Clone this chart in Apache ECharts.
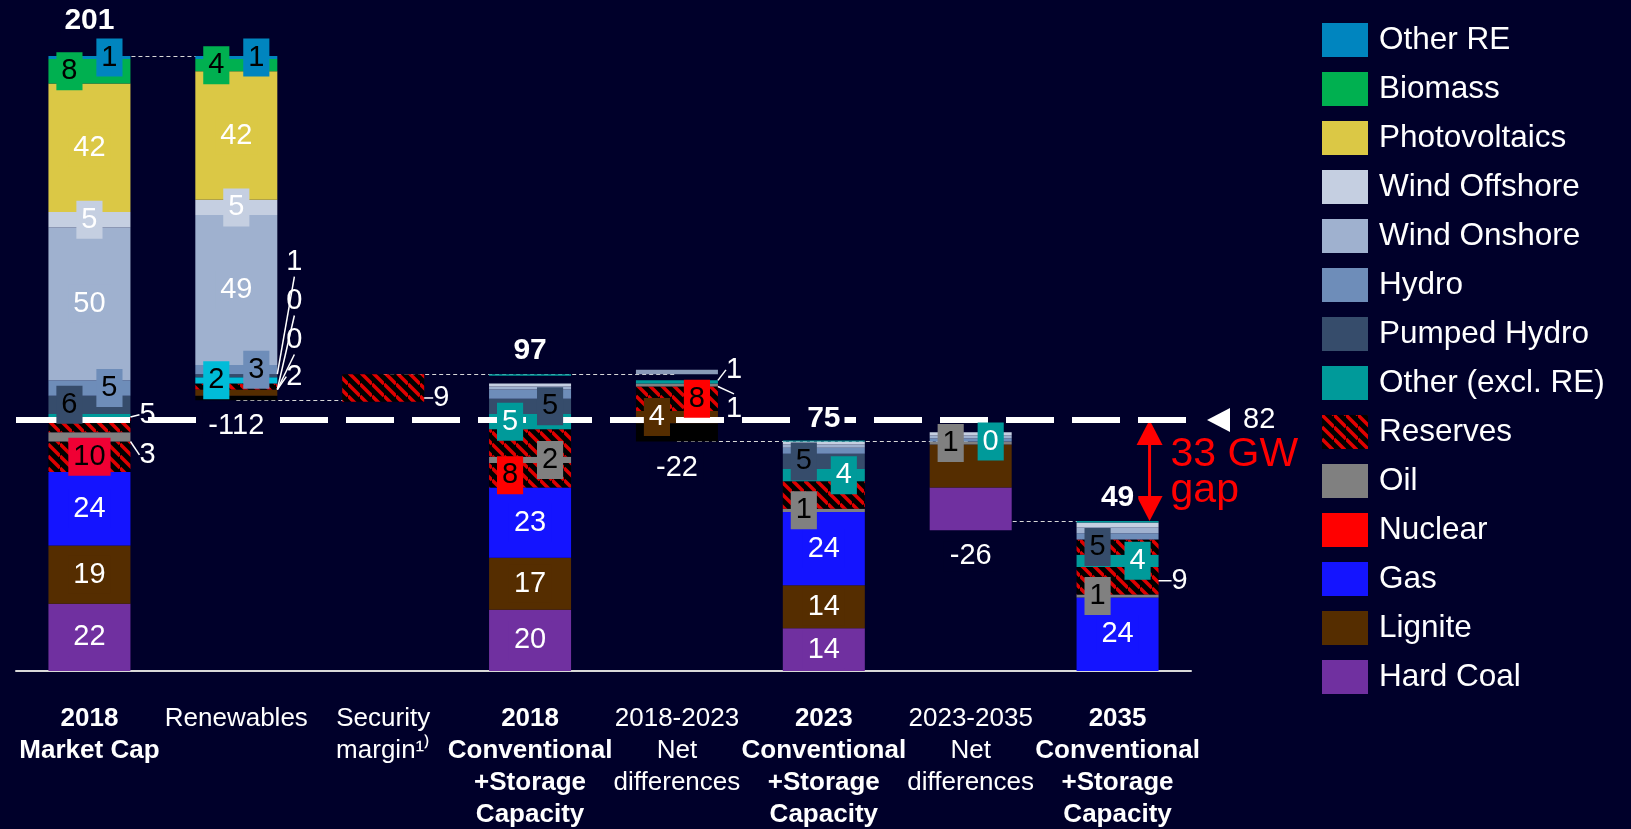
<!DOCTYPE html>
<html lang="en">
<head>
<meta charset="UTF-8">
<title>Capacity waterfall</title>
<script src="https://cdn.jsdelivr.net/npm/echarts@6/dist/echarts.min.js"></script>
<style>
  html, body { margin: 0; padding: 0; background: #00002a; }
  #chart { width: 1631px; height: 829px; }
</style>
</head>
<body>
<div id="chart"></div>
<script>
// categories (x axis)
const categories = ['2018\nMarket Cap', 'Renewables', 'Security\nmargin¹⁾',
  '2018\nConventional\n+Storage\nCapacity', '2018-2023\nNet\ndifferences',
  '2023\nConventional\n+Storage\nCapacity', '2023-2035\nNet\ndifferences',
  '2035\nConventional\n+Storage\nCapacity'];
const boldCats = [true, false, false, true, false, true, false, true];

// stacked values, bottom to top (GW)
const base      = ['-', 88.5, 88, '-', 75, '-', 46, '-'];
const netOther  = ['-', 1.5, '-', '-', 6, '-', '-', '-'];
const hardCoal  = [22, '-', '-', 20, '-', 14, 14, '-'];
const lignite   = [19, 2, '-', 17, 4, 14, 14, '-'];
const gas       = [24, '-', '-', 23, '-', 24, '-', 24];
const nuclear   = [10, 0, '-', 8, 8, '-', '-', '-'];
const oil       = [3, 0, '-', 2, 1, 1, 1, 1];
const reserves  = [5, 2, 9, 9, '-', 9, '-', 9];
const otherExcl = [1, 2, '-', 5, 1, 4, 0, 4];
const pumped    = [6, 1, '-', 5, '-', 5, '-', 5];
const hydro     = [5, 3, '-', 3, '-', 2, 1, 2];
const windOn    = [50, 49, '-', 1, '-', 1, 1, 2];
const windOff   = [5, 5, '-', 1, '-', 1, 1, 1.5];
const pv        = [42, 42, '-', '-', '-', '-', '-', '-'];
const biomass   = [8, 4, '-', '-', '-', '-', '-', '-'];
const otherRE   = [1, 1, '-', '-', '-', '-', '-', '-'];
const gap       = ['-', '-', '-', 2.5, 2, '-', '-', '-'];
const cap       = ['-', '-', '-', 0.5, 1.5, 0.3, '-', 0.5];
const totals    = [201, '-', '-', 97, '-', 75, '-', 49];
const deltas    = ['', '-112', '', '', '-22', '', '-26', ''];
const target = 82;
const gapText = ['33 GW', 'gap'];
// connectors: from category, to category, level
const connectors = [[0, 1, 201], [1, 2, 88.5], [2, 4, 97], [4, 5, 75], [5, 6, 75], [6, 7, 49]];

const BG = '#00002a';
const FONT = '"Liberation Sans", Arial, sans-serif';
const BAR_W = 82;
const CLEAR = 'rgba(0,0,0,0)';

// red / black hatch used for reserves
function makeHatch() {
  const c = document.createElement('canvas');
  c.width = 12; c.height = 12;
  const g = c.getContext('2d');
  g.fillStyle = '#000'; g.fillRect(0, 0, 12, 12);
  g.strokeStyle = '#e00000'; g.lineWidth = 3.5;
  [-12, 0, 12].forEach(o => { g.beginPath(); g.moveTo(0, o); g.lineTo(12, 12 + o); g.stroke(); });
  return c;
}
const hatch = { image: makeHatch(), repeat: 'repeat' };

// segment definitions, bottom to top
// label codes: c centre, l box left, r box right, o outside with leader
const segs = [
  { name: 'base', color: CLEAR, data: base, codes: [] },
  { name: 'net', color: '#000000', data: netOther, codes: [] },
  { name: 'Hard Coal', color: '#7030a0', data: hardCoal, codes: ['c', '', '', 'c', '', 'c', '', ''], text: '#fff' },
  { name: 'Lignite', color: '#552d00', data: lignite, codes: ['c', 'o', '', 'c', 'l', 'c', '', ''], text: '#fff',
    leaders: [null, [4, -16]] },
  { name: 'Gas', color: '#1414ff', data: gas, codes: ['c', '', '', 'c', '', 'c', '', 'c'], text: '#fff' },
  { name: 'Nuclear', color: '#ff0000', data: nuclear, codes: ['c', 'o', '', 'l', 'r', '', '', ''], text: '#000',
    hatchAt: [0, 3, 4], leaders: [null, [4, -50]], boxAt: [['#f00034', '#000']] },
  { name: 'Oil', color: '#808080', data: oil, codes: ['o', 'o', '', 'r', 'o', 'l', 'l', 'l'], text: '#000',
    leaders: [[4, 18], [4, -89], null, null, [3, 24]] },
  { name: 'Reserves', color: '#c00000', data: reserves, codes: ['o', '', 'o', '', '', '', '', 'o'], text: '#fff',
    pattern: true, leaders: [[4, -10], null, [4, 10], null, null, null, null, [8, 0]] },
  { name: 'Other (excl. RE)', color: '#009a9a', data: otherExcl, codes: ['', 'l', '', 'l', 'o', 'r', 'r', 'r'], text: '#fff',
    colorAt: [null, '#00bcd8'], boxAt: [null, ['#00bcd8', '#000']], leaders: [null, null, null, null, [3, -12]] },
  { name: 'Pumped Hydro', color: '#364c6b', data: pumped, codes: ['l', 'o', '', 'r', '', 'l', '', 'l'], text: '#000',
    hatchAt: [7], leaders: [null, [4, -114]] },
  { name: 'Hydro', color: '#6e8db9', data: hydro, codes: ['r', 'r', '', '', '', '', '', ''], text: '#000' },
  { name: 'Wind Onshore', color: '#9fb1cf', data: windOn, codes: ['c', 'c', '', '', '', '', '', ''], text: '#fff' },
  { name: 'Wind Offshore', color: '#c5cfe1', data: windOff, codes: ['c', 'c', '', '', '', '', '', ''], text: '#fff' },
  { name: 'Photovoltaics', color: '#dbc845', data: pv, codes: ['c', 'c', '', '', '', '', '', ''], text: '#fff' },
  { name: 'Biomass', color: '#00b050', data: biomass, codes: ['l', 'l', '', '', '', '', '', ''], text: '#000' },
  { name: 'Other RE', color: '#0085bf', data: otherRE, codes: ['r', 'r', '', '', '', '', '', ''], text: '#000' },
  { name: 'gap', color: CLEAR, data: gap, codes: [] },
  { name: 'cap', color: '#009a9a', data: cap, codes: [], colorAt: [null, null, null, null, '#8a9ab8'] }
];

// visible bars (z 1)
function barSeries(s) {
  return {
    name: s.name, type: 'bar', stack: 'all', barWidth: BAR_W, barGap: '-100%', z: 1,
    itemStyle: { color: s.pattern ? hatch : s.color },
    label: { show: false },
    data: s.data.map((v, i) => {
      const item = { value: v };
      if (s.hatchAt && s.hatchAt.includes(i)) item.itemStyle = { color: hatch };
      if (s.colorAt && s.colorAt[i]) item.itemStyle = { color: s.colorAt[i] };
      return item;
    })
  };
}

// transparent copy carrying the labels, drawn above the 82 GW line (z 3)
function labelSeries(s) {
  const leaders = s.leaders || [];
  const codes = s.codes;
  return {
    name: 'lbl ' + s.name, type: 'bar', stack: 'lbl', barWidth: BAR_W, barGap: '-100%', z: 3,
    itemStyle: { color: CLEAR },
    label: { show: false, fontSize: 29, fontFamily: FONT, color: s.text || '#fff',
      backgroundColor: s.color, padding: [4, 5], lineHeight: 30 },
    labelLine: { show: true, lineStyle: { color: '#fff', width: 1.5 } },
    labelLayout: function (p) {
      const code = codes[p.dataIndex];
      if (code === 'o') {
        const l = leaders[p.dataIndex];
        return { dx: l[0], dy: l[1] };
      }
      if (code === 'l') return { dx: -20 };
      if (code === 'r') return { dx: 20 };
      return {};
    },
    data: s.data.map((v, i) => {
      const item = { value: v };
      const code = codes[i];
      if (s.name === 'base' && deltas[i]) {
        item.label = { show: true, formatter: deltas[i], position: 'insideTop', distance: 11, fontSize: 29,
          fontFamily: FONT, color: '#fff', backgroundColor: BG, padding: [0, 6] };
        return item;
      }
      if (!code) return item;
      if (code === 'o') {
        item.label = { show: true, position: 'right', distance: 5, color: '#fff',
          backgroundColor: 'transparent', padding: 0 };
      } else {
        item.label = { show: true, position: 'inside' };
        item.labelLine = { show: false };
        if (s.boxAt && s.boxAt[i]) {
          item.label.backgroundColor = s.boxAt[i][0];
          item.label.color = s.boxAt[i][1];
        }
      }
      return item;
    })
  };
}

const series = segs.map(barSeries).concat(segs.map(labelSeries)).concat([
  { name: 'total', type: 'bar', stack: 'tot', barWidth: BAR_W, barGap: '-100%', z: 3,
    itemStyle: { color: CLEAR },
    data: totals.map((v, i) => ({ value: v, label: { distance: i === 0 ? 20 : 8 } })),
    label: { show: true, position: 'top', fontSize: 30, fontWeight: 'bold', fontFamily: FONT,
      color: '#fff', backgroundColor: BG, padding: [0, 4] } },
  { name: 'connectors', type: 'line', data: [], z: 0,
    markLine: { silent: true, symbol: 'none', z: 0, label: { show: false },
      lineStyle: { color: '#d8d8d8', width: 1, type: [4, 3] },
      data: connectors.map(c => [{ coord: [categories[c[0]], c[2]] }, { coord: [categories[c[1]], c[2]] }]) } },
  { name: 'target', type: 'line', data: [], z: 2,
    markLine: { silent: true, symbol: 'none', z: 2, label: { show: false },
      lineStyle: { color: '#fff', width: 6, type: [48, 18] },
      data: [{ yAxis: target }] } }
]);

const legendNames = ['Other RE', 'Biomass', 'Photovoltaics', 'Wind Offshore', 'Wind Onshore', 'Hydro',
  'Pumped Hydro', 'Other (excl. RE)', 'Reserves', 'Oil', 'Nuclear', 'Gas', 'Lignite', 'Hard Coal'];

const chart = echarts.init(document.getElementById('chart'));
chart.setOption({
  backgroundColor: BG,
  animation: false,
  grid: { left: 16, right: 440, top: 4, bottom: 158 },
  legend: {
    orient: 'vertical', left: 1317, top: 18, itemWidth: 46, itemHeight: 34, itemGap: 15,
    selectedMode: false, icon: 'rect', data: legendNames,
    textStyle: { color: '#fff', fontSize: 31.5, fontFamily: FONT, lineHeight: 34, padding: [0, 0, 0, 6] }
  },
  xAxis: {
    type: 'category', data: categories,
    axisTick: { show: false },
    axisLine: { lineStyle: { color: '#d9d9d9', width: 2 } },
    axisLabel: {
      interval: 0, margin: 32,
      formatter: (v, i) => v.split('\n').map(s => '{' + (boldCats[i] ? 'b' : 'n') + '|' + s + '}').join('\n'),
      rich: {
        b: { fontSize: 26, fontWeight: 'bold', color: '#fff', lineHeight: 32, fontFamily: FONT },
        n: { fontSize: 26, color: '#fff', lineHeight: 32, fontFamily: FONT }
      }
    }
  },
  yAxis: { type: 'value', min: 0, max: 218, show: false, splitLine: { show: false } },
  series: series
});

// annotations: 82 marker and the red gap arrow
const p82 = chart.convertToPixel({ gridIndex: 0 }, [categories[7], target]);
const p49 = chart.convertToPixel({ gridIndex: 0 }, [categories[7], totals[7]]);
const gridRight = 1631 - 440;
const ax = p82[0] + 32;
chart.setOption({
  graphic: [
    { type: 'polygon', shape: { points: [[gridRight + 16, p82[1]], [gridRight + 39, p82[1] - 12], [gridRight + 39, p82[1] + 12]] },
      style: { fill: '#fff' } },
    { type: 'text', x: gridRight + 52, y: p82[1], style: { text: String(target), fill: '#fff', font: '29px ' + FONT, verticalAlign: 'middle' } },
    { type: 'rect', shape: { x: ax - 1.5, y: p82[1] + 20, width: 3, height: p49[1] - p82[1] - 40 }, style: { fill: '#ff0000' } },
    { type: 'polygon', shape: { points: [[ax, p82[1]], [ax - 13, p82[1] + 25], [ax + 13, p82[1] + 25]] }, style: { fill: '#ff0000' } },
    { type: 'polygon', shape: { points: [[ax, p49[1]], [ax - 13, p49[1] - 25], [ax + 13, p49[1] - 25]] }, style: { fill: '#ff0000' } },
    { type: 'text', x: ax + 21, y: p82[1] + 35, style: { text: gapText[0], fill: '#ff0000', font: '41px ' + FONT, verticalAlign: 'middle' } },
    { type: 'text', x: ax + 21, y: p82[1] + 71, style: { text: gapText[1], fill: '#ff0000', font: '41px ' + FONT, verticalAlign: 'middle' } }
  ]
});
</script>
</body>
</html>
